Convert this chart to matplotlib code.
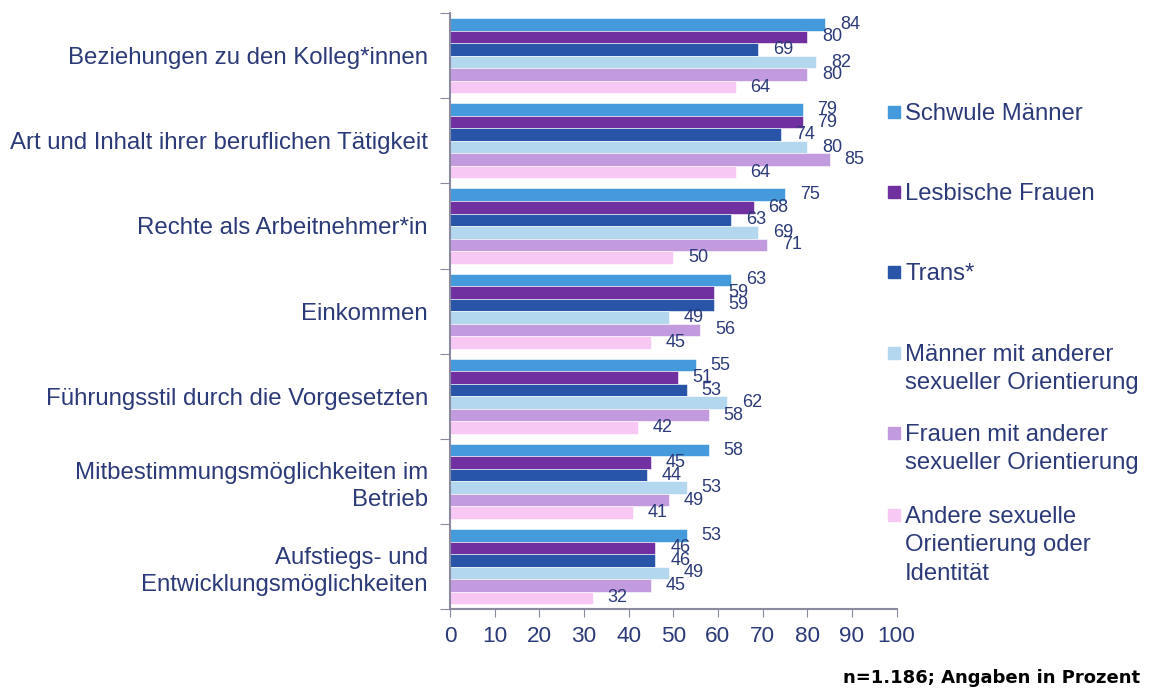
import matplotlib
matplotlib.use('Agg')
import matplotlib.pyplot as plt
from matplotlib.patches import Rectangle
import numpy as np

plt.rcParams['font.family'] = ['Liberation Sans', 'DejaVu Sans']

# Daten
kategorien = ['Beziehungen zu den Kolleg*innen',
              'Art und Inhalt ihrer beruflichen Tätigkeit',
              'Rechte als Arbeitnehmer*in',
              'Einkommen',
              'Führungsstil durch die Vorgesetzten',
              'Mitbestimmungsmöglichkeiten im\nBetrieb',
              'Aufstiegs- und\nEntwicklungsmöglichkeiten']
gruppen = ['Schwule Männer',
           'Lesbische Frauen',
           'Trans*',
           'Männer mit anderer\nsexueller Orientierung',
           'Frauen mit anderer\nsexueller Orientierung',
           'Andere sexuelle\nOrientierung oder\nIdentität']
schwul = [84, 79, 75, 63, 55, 58, 53]
lesbisch = [80, 79, 68, 59, 51, 45, 46]
trans = [69, 74, 63, 59, 53, 44, 46]
maenner_andere = [82, 80, 69, 49, 62, 53, 49]
frauen_andere = [80, 85, 71, 56, 58, 49, 45]
andere = [64, 64, 50, 45, 42, 41, 32]
werte = [schwul, lesbisch, trans, maenner_andere, frauen_andere, andere]

farben = ['#449ADB', '#7030A0', '#2955A8', '#B4D7F0', '#C29ADE', '#F8C8F4']
textfarbe = '#2B3A78'
achsfarbe = '#8A8AA0'

fig = plt.figure(figsize=(11.51, 6.89), dpi=100)
ax = fig.add_axes([0.391, 0.116, 0.388, 0.865])

y = np.arange(len(kategorien))
h = 0.147
for i, (vals, col) in enumerate(zip(werte, farben)):
    pos = y - 0.44 + h / 2 + i * h
    ax.barh(pos, vals, height=h, color=col, edgecolor='white', linewidth=0.4)
    for p, v in zip(pos, vals):
        ax.text(v + 3.3, p, str(v), va='center', ha='left',
                fontsize=13, color=textfarbe)

ax.set_xlim(0, 100)
ax.set_ylim(len(kategorien) - 0.5, -0.5)
ax.set_xticks(range(0, 101, 10))
ax.tick_params(axis='x', colors=achsfarbe, labelcolor=textfarbe,
               labelsize=16.2, length=6, pad=6)
ax.set_yticks(np.arange(-0.5, len(kategorien), 1))
ax.set_yticklabels([])
ax.set_yticks(y, minor=True)
ax.set_yticklabels(kategorien, minor=True, fontsize=17.3, color=textfarbe,
                   linespacing=1.3)
ax.tick_params(axis='y', which='major', colors=achsfarbe, length=7)
ax.tick_params(axis='y', which='minor', length=0, pad=16)

for s in ['top', 'right']:
    ax.spines[s].set_visible(False)
for s in ['left', 'bottom']:
    ax.spines[s].set_color(achsfarbe)
    ax.spines[s].set_linewidth(1.5)

# Legende
leg_y = [112, 192, 272, 353, 433, 515]
for g, col, ly in zip(gruppen, farben, leg_y):
    yf = 1 - ly / 689
    fig.add_artist(Rectangle((888 / 1151, yf - 6 / 689), 12 / 1151, 12 / 689,
                             transform=fig.transFigure, color=col))
    fig.text(905 / 1151, yf + 9 / 689, g, ha='left', va='top',
             fontsize=17.2, color=textfarbe, linespacing=1.38)

fig.text(1140 / 1151, 1 - 678 / 689, 'n=1.186; Angaben in Prozent',
         ha='right', va='center', fontsize=13, fontweight='bold', color='black',
         family='DejaVu Sans')

fig.savefig('out.png', dpi=100)
